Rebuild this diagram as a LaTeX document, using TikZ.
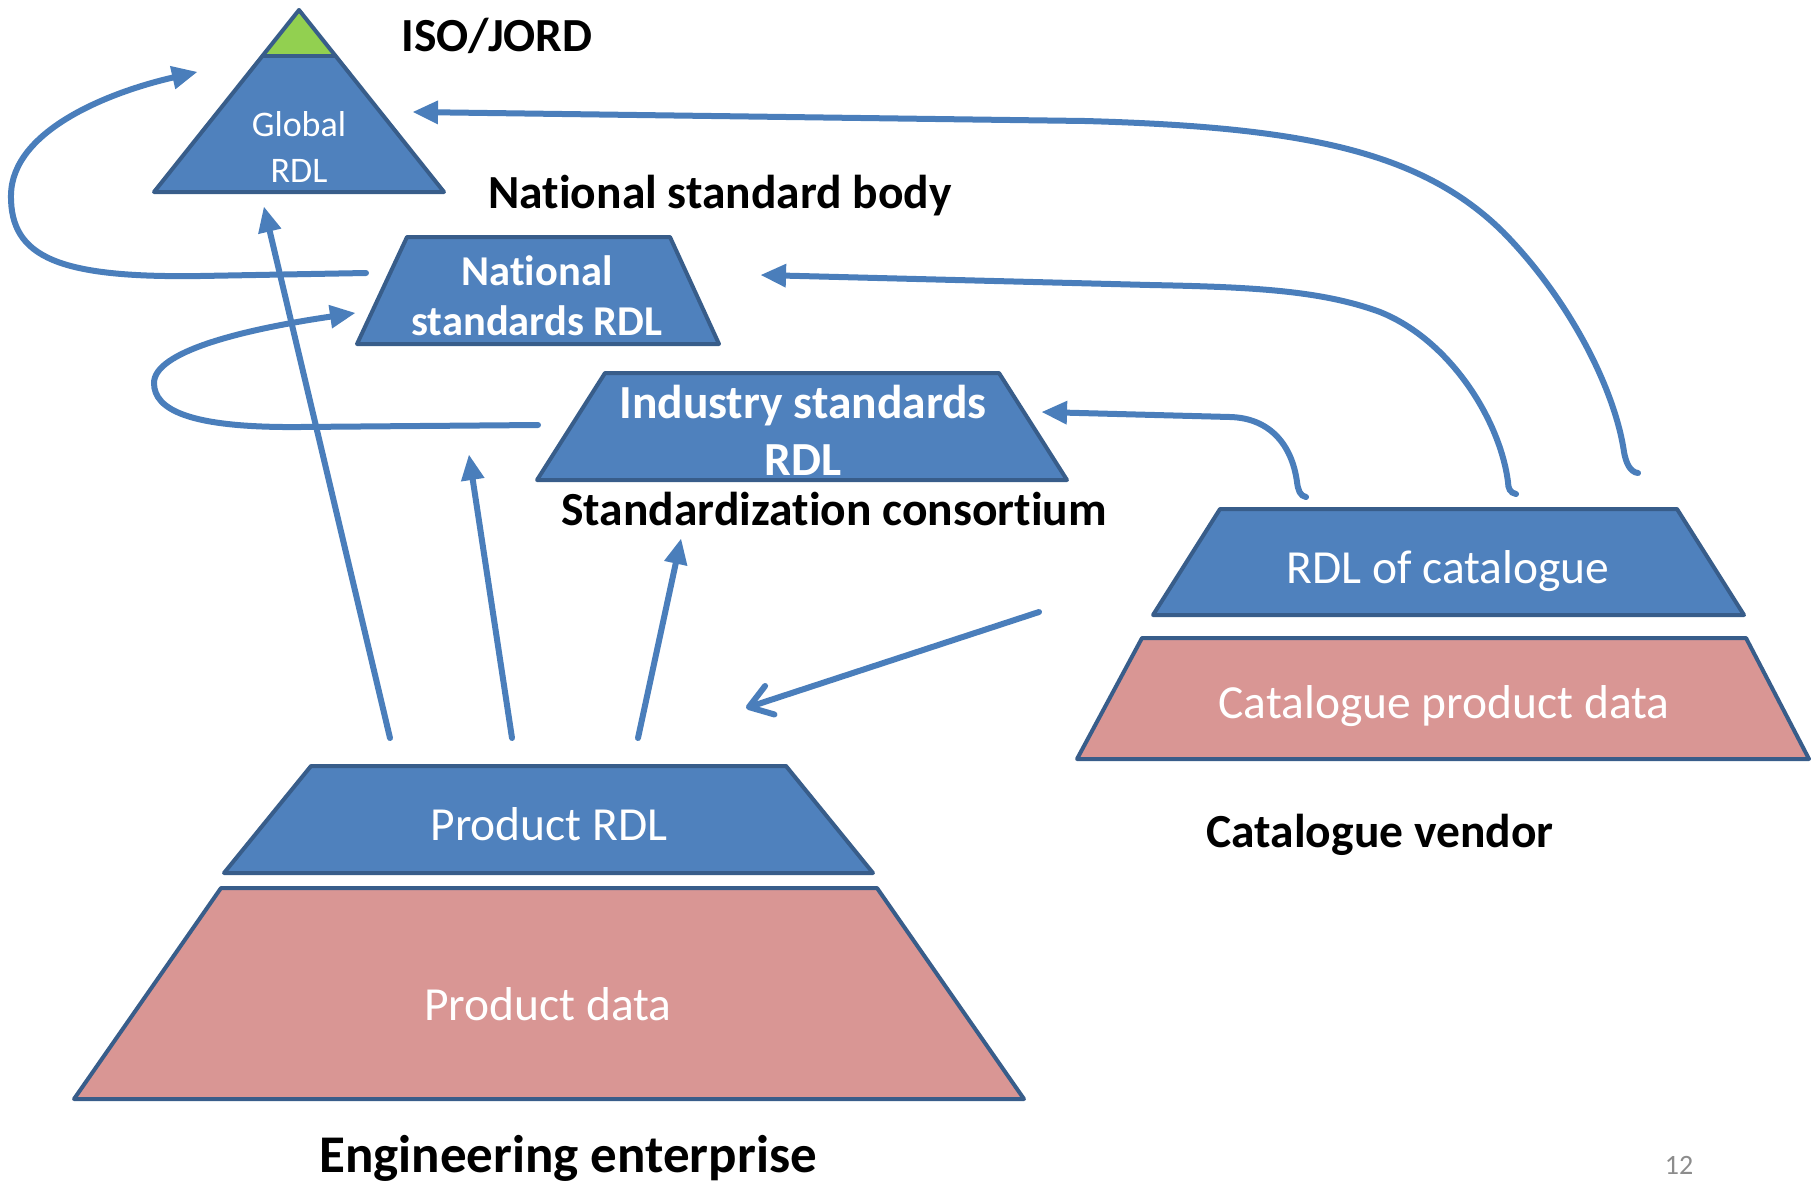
\documentclass[tikz,border=0pt]{standalone}
\usepackage{fontspec}
\setmainfont{Carlito}[Ligatures=NoCommon]
\usetikzlibrary{arrows.meta}
\definecolor{rdlblue}{HTML}{4F81BD}
\definecolor{rdledge}{HTML}{385D8A}
\definecolor{datapink}{HTML}{D99694}
\definecolor{isogreen}{HTML}{92D050}
\definecolor{arrowblue}{HTML}{4A7EBB}
\definecolor{pagegray}{HTML}{8C8C8C}
\begin{document}
\begin{tikzpicture}[x=1pt,y=-1pt,
  rdl/.style={fill=rdlblue,draw=rdledge,line width=4pt,line join=round},
  pdata/.style={fill=datapink,draw=rdledge,line width=4pt,line join=round},
  arr/.style={draw=arrowblue,line width=6pt,line cap=round,-{Triangle[length=25pt,width=24pt,line width=0pt]}},
  chev/.style={draw=arrowblue,line width=6pt,line cap=round,-{Straight Barb[length=22pt,width=30pt,line cap=round,line join=round]}},
  wlab/.style={text=white,inner sep=0pt,anchor=base,font=\fontsize{47.5}{57}\selectfont},
  wbold/.style={text=white,inner sep=0pt,anchor=base,font=\fontsize{47.5}{57}\selectfont\bfseries},
  blab/.style={text=black,inner sep=0pt,anchor=base,font=\fontsize{47.5}{57}\selectfont\bfseries},
]
\useasboundingbox (0,0) rectangle (1811,1184);

% ---- Global RDL triangle
\fill[rdlblue] (299,10) -- (444,192) -- (154,192) -- cycle;
\fill[isogreen] (299,10) -- (335.6,56) -- (262.4,56) -- cycle;
\draw[rdledge,line width=4pt] (262.4,56) -- (335.6,56);
\draw[rdledge,line width=4pt,line join=round] (299,10) -- (444,192) -- (154,192) -- cycle;
\node[wlab,font=\fontsize{36}{43}\selectfont] (globA) at (299,136) {Global};
\node[wlab,font=\fontsize{36}{43}\selectfont] (globB) at (299,182) {RDL};
\node[blab] (iso) at (497,51) {ISO/JORD};

% ---- National standards RDL
\node[blab] (nsb) at (720,208) {National standard body};
\path[rdl] (407,237) -- (670,237) -- (719,344) -- (357,344) -- cycle;
\node[wbold,font=\fontsize{42.5}{50}\selectfont\bfseries] (natA) at (537,285) {National};
\node[wbold,font=\fontsize{42.5}{50}\selectfont\bfseries] (natB) at (537,335) {standards RDL};

% ---- Industry standards RDL
\path[rdl] (605,373) -- (999,373) -- (1067,480) -- (537,480) -- cycle;
\node[wbold] (indA) at (803,418) {Industry standards};
\node[wbold] (indB) at (803,475) {RDL};
\node[blab] (cons) at (834,525) {Standardization consortium};

% ---- Catalogue vendor
\path[rdl] (1220,509) -- (1677,509) -- (1744,615) -- (1153,615) -- cycle;
\node[wlab] (catR) at (1448,583) {RDL of catalogue};
\path[pdata] (1142,638) -- (1746,638) -- (1809,759) -- (1077,759) -- cycle;
\node[wlab] (catD) at (1444,718) {Catalogue product data};
\node[blab] (vend) at (1380,847) {Catalogue vendor};

% ---- Engineering enterprise
\path[rdl] (311,766) -- (786,766) -- (873,873) -- (224,873) -- cycle;
\node[wlab] (prR) at (549,840) {Product RDL};
\path[pdata] (221,888) -- (877,888) -- (1024,1099) -- (74,1099) -- cycle;
\node[wlab] (prD) at (548,1020) {Product data};
\node[blab,font=\fontsize{53}{62}\selectfont\bfseries] (eng) at (568,1172) {Engineering enterprise};

\node[inner sep=0pt,anchor=base,text=pagegray,font=\fontsize{28}{32}\selectfont] (pg) at (1679,1174) {12};

% ---- connector end points
\coordinate (n1s) at (366,273);
\coordinate (g1t) at (197,72);
\coordinate (i2s) at (538,425);
\coordinate (n2t) at (355,313);
\coordinate (pr1) at (390,738);
\coordinate (gt1) at (264,207);
\coordinate (pr2) at (512,738);
\coordinate (nt2) at (469,455);
\coordinate (pr3) at (638,738);
\coordinate (it3) at (681,539);
\coordinate (cv1) at (1039,612);
\coordinate (pt4) at (746,708);
\coordinate (c1s) at (1638,473);
\coordinate (g2t) at (413,112);
\coordinate (c2s) at (1516,494);
\coordinate (n3t) at (761,275);
\coordinate (c3s) at (1306,497);
\coordinate (i3t) at (1042,412);

% ---- connectors
\draw[arr] (n1s) -- (200,276) .. controls (60,278) and (10,258) .. (11,195)
  .. controls (12,130) and (110,92) .. (g1t);
\draw[arr] (i2s) -- (300,427) .. controls (190,428) and (154,410) .. (154,383)
  .. controls (154,352) and (240,330) .. (n2t);
\draw[arr] (pr1) -- (gt1);
\draw[arr] (pr2) -- (nt2);
\draw[arr] (pr3) -- (it3);
\draw[chev] (cv1) -- (pt4);
\draw[arr] (c1s) .. controls (1630,472) and (1626,463) .. (1624,452)
  .. controls (1615,390) and (1570,300) .. (1503,232)
  .. controls (1420,150) and (1300,127) .. (1085,121) -- (g2t);
\draw[arr] (c2s) .. controls (1510,493) and (1508,488) .. (1508,482)
  .. controls (1500,420) and (1450,340) .. (1380,312)
  .. controls (1320,290) and (1250,287) .. (1150,285) -- (n3t);
\draw[arr] (c3s) .. controls (1300,496) and (1298,490) .. (1297,482)
  .. controls (1292,445) and (1270,418) .. (1230,417) -- (i3t);
\end{tikzpicture}
\end{document}
